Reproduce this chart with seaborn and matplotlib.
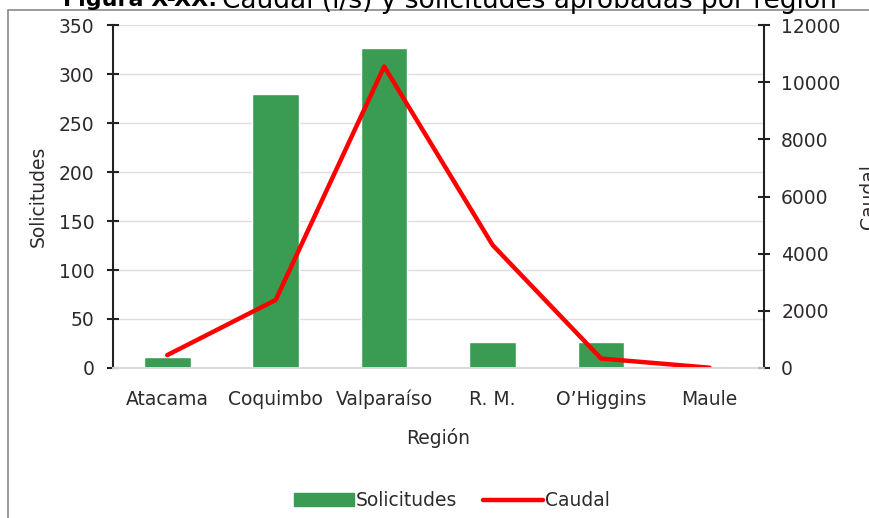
import numpy as np
import pandas as pd
import matplotlib
matplotlib.use("Agg")
import matplotlib.pyplot as plt
import seaborn as sns
from matplotlib.patches import Patch
from matplotlib.lines import Line2D

# -----------------------------------
# DATA
# -----------------------------------

regiones = ["Atacama", "Coquimbo", "Valparaíso", "R. M.", "O’Higgins", "Maule"]
solicitudes = [11, 280, 327, 27, 27, 2]
caudal = [450, 2380, 10550, 4300, 330, 10]

df = pd.DataFrame({"Región": regiones, "Solicitudes": solicitudes, "Caudal": caudal})

# -----------------------------------
# STYLE
# -----------------------------------

sns.set_style("white")
plt.rcParams["font.family"] = ["DejaVu Sans Condensed", "DejaVu Sans"]
txt = "#2f2a2a"
green = "#3a9c52"
red = "#ff0000"

fig = plt.figure(figsize=(8.69, 5.18), dpi=100)
ax = fig.add_axes([0.130, 0.2896, 0.749, 0.662])

sns.barplot(data=df, x="Región", y="Solicitudes", color=green, width=0.43,
            saturation=1, ax=ax, zorder=2)
ax.set_ylim(0, 350)
ax.set_yticks(range(0, 351, 50))
ax.set_xlim(-0.5, 5.5)
ax.yaxis.grid(True, color="#dedede", linewidth=1.0, zorder=0)
ax.set_axisbelow(True)

ax2 = ax.twinx()
sns.lineplot(x=np.arange(len(regiones)), y=caudal, color=red, linewidth=3.2, ax=ax2)
ax2.set_ylim(0, 12000)
ax2.set_yticks(range(0, 12001, 2000))
ax2.set_xlim(-0.5, 5.5)

for a in (ax, ax2):
    a.spines["top"].set_visible(False)
    a.spines["bottom"].set_color("#d9d9d9")
    a.spines["bottom"].set_linewidth(1.2)
    a.spines["left"].set_color("#222222")
    a.spines["right"].set_color("#222222")
    a.spines["left"].set_linewidth(1.5)
    a.spines["right"].set_linewidth(1.5)
    a.tick_params(axis="y", direction="inout", length=9, width=1.5, color="#222222",
                  labelsize=13.5, labelcolor=txt, pad=9)
ax.spines["right"].set_visible(False)
ax2.spines["left"].set_visible(False)
ax2.tick_params(axis="y", pad=8)
ax.tick_params(axis="x", length=0, labelsize=13.5, labelcolor=txt, pad=27)
for lbl in ax.get_xticklabels():
    lbl.set_verticalalignment("baseline")

ax.set_xlabel("Región", fontsize=13.5, color=txt, labelpad=13)
ax.set_ylabel("Solicitudes", fontsize=13.5, color=txt, labelpad=8)
ax2.set_ylabel("Caudal", fontsize=13.5, color=txt, labelpad=13)

handles = [Patch(facecolor=green, edgecolor=green),
           Line2D([0], [0], color=red, linewidth=3.2)]
fig.legend(handles, ["Solicitudes", "Caudal"], loc="center", bbox_to_anchor=(0.52, 0.033),
           ncol=2, frameon=False, fontsize=13.5, labelcolor=txt, handlelength=3.2,
           handletextpad=0.1, columnspacing=1.4)

# clipped title and border of the original figure
fig.text(0.250, 1.0, "Figura X-XX:", fontsize=16, fontweight="bold", ha="right",
         va="center", color="black")
fig.text(0.256, 1.0, "Caudal (l/s) y solicitudes aprobadas por región", fontsize=19,
         ha="left", va="center", color="black")
fig.add_artist(Line2D([8 / 869, 8 / 869], [0, 508 / 518], color="#8a8a8a", linewidth=1.2))
fig.add_artist(Line2D([8 / 869, 1], [508 / 518, 508 / 518], color="#8a8a8a", linewidth=1.2))

plt.savefig("out.png", dpi=100)
